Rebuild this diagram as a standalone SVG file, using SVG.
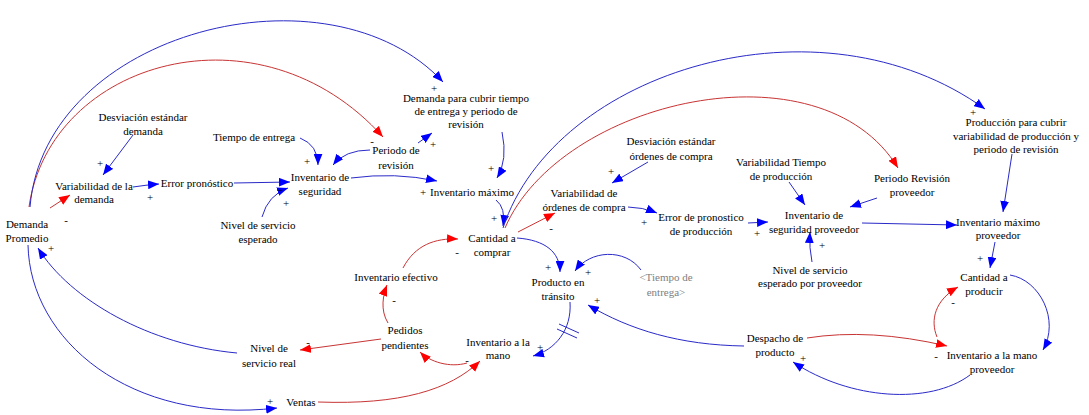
<svg xmlns="http://www.w3.org/2000/svg" width="1089" height="415" viewBox="0 0 1089 415">
  <style>
    text { font-family: "Liberation Serif", "Times New Roman", serif; font-size: 11px; fill: #000; }
    .node text { text-anchor: middle; }
    .shadow text { fill: #808080; }
    .sign { text-anchor: middle; font-size: 11px; }
    .pos { fill: none; stroke: #2a2ac8; stroke-width: 1; marker-end: url(#headBlue); }
    .neg { fill: none; stroke: #c83434; stroke-width: 1; marker-end: url(#headRed); }
    .delay { fill: none; stroke: #2a2ac8; stroke-width: 1; }
  </style>
  <defs>
    <marker id="headBlue" viewBox="0 0 10 8" refX="10" refY="4" markerWidth="11" markerHeight="9" markerUnits="userSpaceOnUse" orient="auto">
      <path d="M0,0 L10,4 L0,8 z" fill="#0000ff"/>
    </marker>
    <marker id="headRed" viewBox="0 0 10 8" refX="10" refY="4" markerWidth="11" markerHeight="9" markerUnits="userSpaceOnUse" orient="auto">
      <path d="M0,0 L10,4 L0,8 z" fill="#ff0000"/>
    </marker>
  </defs>

  <rect width="1089" height="415" fill="#ffffff"/>

  <!-- causal links -->
  <g id="connectors">
    <path class="pos" d="M133,135 L103,175"/>
    <path class="pos" d="M133,187 Q146,185 159,184"/>
    <path class="neg" d="M50,208 L70,195"/>
    <path class="pos" d="M234,183 L290,182"/>
    <path class="pos" d="M300,138 Q318,145 318,165"/>
    <path class="pos" d="M262,217 Q268,195 288,188"/>
    <path class="pos" d="M370,150 Q345,150 333,165"/>
    <path class="pos" d="M418,143 L432,133"/>
    <path class="neg" d="M29,207 C50,60 260,0 383,137"/>
    <path class="pos" d="M30,207 C45,30 330,-40 443,82"/>
    <path class="pos" d="M502,132 Q508,160 497,178"/>
    <path class="pos" d="M351,178 Q395,172 437,181"/>
    <path class="pos" d="M496,200 Q506,208 503,226"/>
    <path class="pos" d="M503,228 C555,70 820,-10 985,109"/>
    <path class="neg" d="M505,228 C560,100 820,40 898,168"/>
    <path class="neg" d="M518,232 L555,213"/>
    <path class="pos" d="M648,162 L612,183"/>
    <path class="pos" d="M628,207 Q642,207 657,213"/>
    <path class="pos" d="M748,223 L768,222"/>
    <path class="pos" d="M789,182 L805,205"/>
    <path class="pos" d="M877,198 L850,207"/>
    <path class="pos" d="M812,262 Q809,248 810,232"/>
    <path class="pos" d="M862,223 L957,225"/>
    <path class="pos" d="M1012,154 L1003,212"/>
    <path class="pos" d="M995,242 L990,268"/>
    <path class="pos" d="M1010,275 C1040,280 1060,320 1043,350"/>
    <path class="neg" d="M937,337 C930,320 935,300 958,287"/>
    <path class="neg" d="M807,338 Q870,328 947,346"/>
    <path class="pos" d="M970,375 C930,405 850,400 793,362"/>
    <path class="pos" d="M744,346 C680,345 630,330 588,305"/>
    <path class="pos" d="M517,238 C545,240 560,252 560,272"/>
    <path class="pos" d="M641,270 C625,248 590,250 575,271"/>
    <path class="pos" d="M570,302 C572,330 555,350 533,356"/>
    <path class="delay" d="M559,324 L579,333 M557,329 L577,338"/>
    <path class="neg" d="M403,268 C415,245 435,238 458,239"/>
    <path class="neg" d="M388,323 C380,310 383,295 387,285"/>
    <path class="neg" d="M381,339 L300,350"/>
    <path class="pos" d="M237,353 C150,345 70,300 38,248"/>
    <path class="pos" d="M28,245 C30,340 130,425 277,408"/>
    <path class="neg" d="M318,402 C400,405 450,390 480,361"/>
    <path class="neg" d="M467,363 C450,368 430,362 420,352"/>
  </g>

  <!-- link polarities -->
  <g id="polarities">
    <text class="sign" x="100" y="167">+</text>
    <text class="sign" x="150" y="201">+</text>
    <text class="sign" x="66" y="224">-</text>
    <text class="sign" x="51" y="252">+</text>
    <text class="sign" x="307" y="165">+</text>
    <text class="sign" x="280" y="194">+</text>
    <text class="sign" x="286" y="207">+</text>
    <text class="sign" x="372" y="145">-</text>
    <text class="sign" x="433" y="148">+</text>
    <text class="sign" x="434" y="92">+</text>
    <text class="sign" x="491" y="172">+</text>
    <text class="sign" x="423" y="196">+</text>
    <text class="sign" x="494" y="222">+</text>
    <text class="sign" x="457" y="256">-</text>
    <text class="sign" x="548" y="271">+</text>
    <text class="sign" x="588" y="276">+</text>
    <text class="sign" x="551" y="232">-</text>
    <text class="sign" x="611" y="175">+</text>
    <text class="sign" x="644" y="226">+</text>
    <text class="sign" x="757" y="237">+</text>
    <text class="sign" x="822" y="249">+</text>
    <text class="sign" x="973" y="116">+</text>
    <text class="sign" x="980" y="262">+</text>
    <text class="sign" x="953" y="306">-</text>
    <text class="sign" x="936" y="360">-</text>
    <text class="sign" x="803" y="362">+</text>
    <text class="sign" x="597" y="304">+</text>
    <text class="sign" x="540" y="351">+</text>
    <text class="sign" x="394" y="304">-</text>
    <text class="sign" x="308" y="346">-</text>
    <text class="sign" x="270" y="405">+</text>
    <text class="sign" x="467" y="364">-</text>
  </g>

  <!-- variables -->
  <g id="desviacion-demanda" class="node"><text x="143" y="121">Desviación estándar<tspan x="143" dy="14">demanda</tspan></text></g>
  <g id="variabilidad-demanda" class="node"><text x="94" y="190">Variabilidad de la<tspan x="94" dy="13">demanda</tspan></text></g>
  <g id="error-pronostico" class="node"><text x="197" y="187">Error pronóstico</text></g>
  <g id="tiempo-entrega" class="node"><text x="254" y="141">Tiempo de entrega</text></g>
  <g id="inventario-seguridad" class="node"><text x="320" y="181">Inventario de<tspan x="320" dy="14">seguridad</tspan></text></g>
  <g id="nivel-servicio-esperado" class="node"><text x="258" y="229">Nivel de servicio<tspan x="258" dy="14">esperado</tspan></text></g>
  <g id="periodo-revision" class="node"><text x="396" y="154">Periodo de<tspan x="396" dy="15">revisión</tspan></text></g>
  <g id="demanda-cubrir" class="node"><text x="466" y="102">Demanda para cubrir tiempo<tspan x="466" dy="13">de entrega y periodo de</tspan><tspan x="466" dy="13">revisión</tspan></text></g>
  <g id="inventario-maximo" class="node"><text x="472" y="196">Inventario máximo</text></g>
  <g id="demanda-promedio" class="node"><text x="27" y="228">Demanda<tspan x="27" dy="14">Promedio</tspan></text></g>
  <g id="cantidad-comprar" class="node"><text x="492" y="242">Cantidad a<tspan x="492" dy="14">comprar</tspan></text></g>
  <g id="variabilidad-ordenes" class="node"><text x="584" y="197">Variabilidad de<tspan x="584" dy="14">órdenes de compra</tspan></text></g>
  <g id="desviacion-ordenes" class="node"><text x="671" y="145">Desviación estándar<tspan x="671" dy="15">órdenes de compra</tspan></text></g>
  <g id="error-produccion" class="node"><text x="701" y="221">Error de pronostico<tspan x="701" dy="14">de producción</tspan></text></g>
  <g id="variabilidad-tiempo-produccion" class="node"><text x="781" y="166">Variabilidad Tiempo<tspan x="781" dy="14">de producción</tspan></text></g>
  <g id="inventario-seguridad-proveedor" class="node"><text x="814" y="219">Inventario de<tspan x="814" dy="14">seguridad proveedor</tspan></text></g>
  <g id="periodo-revision-proveedor" class="node"><text x="912" y="182">Periodo Revisión<tspan x="912" dy="14">proveedor</tspan></text></g>
  <g id="produccion-cubrir" class="node"><text x="1016" y="126">Producción para cubrir<tspan x="1016" dy="14">variabilidad de producción y</tspan><tspan x="1016" dy="13">periodo de revisión</tspan></text></g>
  <g id="inventario-maximo-proveedor" class="node"><text x="998" y="226">Inventario máximo<tspan x="998" dy="13">proveedor</tspan></text></g>
  <g id="nivel-servicio-proveedor" class="node"><text x="810" y="274">Nivel de servicio<tspan x="810" dy="13">esperado por proveedor</tspan></text></g>
  <g id="cantidad-producir" class="node"><text x="984" y="281">Cantidad a<tspan x="984" dy="14">producir</tspan></text></g>
  <g id="inventario-mano-proveedor" class="node"><text x="992" y="359">Inventario a la mano<tspan x="992" dy="14">proveedor</tspan></text></g>
  <g id="despacho-producto" class="node"><text x="775" y="342">Despacho de<tspan x="775" dy="14">producto</tspan></text></g>
  <g id="producto-transito" class="node"><text x="558" y="286">Producto en<tspan x="558" dy="14">tránsito</tspan></text></g>
  <g id="tiempo-entrega-sombra" class="node shadow"><text x="666" y="281">&lt;Tiempo de<tspan x="666" dy="15">entrega&gt;</tspan></text></g>
  <g id="inventario-efectivo" class="node"><text x="396" y="281">Inventario efectivo</text></g>
  <g id="pedidos-pendientes" class="node"><text x="405" y="334">Pedidos<tspan x="405" dy="15">pendientes</tspan></text></g>
  <g id="nivel-servicio-real" class="node"><text x="269" y="352">Nivel de<tspan x="269" dy="15">servicio real</tspan></text></g>
  <g id="inventario-mano" class="node"><text x="498" y="346">Inventario a la<tspan x="498" dy="13">mano</tspan></text></g>
  <g id="ventas" class="node"><text x="301" y="406">Ventas</text></g>
</svg>
